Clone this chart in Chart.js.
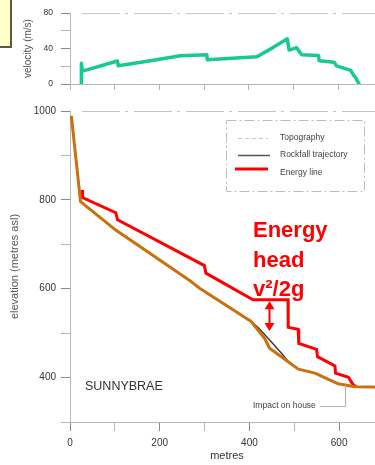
<!DOCTYPE html>
<html><head><meta charset="utf-8">
<script src="https://cdn.jsdelivr.net/npm/chart.js@4.4.1/dist/chart.umd.min.js"></script>
<style>
html,body{margin:0;padding:0;background:#fff;overflow:hidden;width:375px;height:465px;}
#wrap{position:relative;width:375px;height:465px;overflow:hidden;}
#topBox{position:absolute;left:0;top:0;width:383px;height:100px;}
#botBox{position:absolute;left:0;top:100px;width:390px;height:365px;}
#note{position:absolute;left:-2px;top:-2px;width:10px;height:46px;background:#ffffc8;border:2px solid #5a5a3c;}
</style></head>
<body><div id="wrap">
<div id="topBox"><canvas id="vel"></canvas></div>
<div id="botBox"><canvas id="elev"></canvas></div>
<div id="note"></div>
</div>
<script>
// ---- data (metres along profile) ----
const velDist = [25, 25.5, 28, 106, 108, 173, 247, 306, 307, 418, 452, 486, 490, 507, 518, 556, 557, 591, 596, 628, 632, 639, 644, 646.5];
const velMs   = [0.5, 23.5, 14.5, 26, 20.5, 25.7, 31.8, 33, 27.4, 30.8, 40.5, 51, 38.3, 41, 33.1, 32.1, 26.3, 24.6, 20.5, 15.4, 11.6, 6.9, 2.4, 0];

const topoDist = [3, 23.5, 102, 270, 289, 404, 434, 445, 471, 509, 546, 598, 635, 700];
const topoElev = [989, 796, 732, 616, 601, 526, 488, 466, 447, 419, 410, 386, 379.5, 378];

const trajDist = [3, 23.5, 102, 270, 289, 404, 420, 442, 472, 490, 509, 546, 598, 635, 700];
const trajElev = [989, 796, 732, 616, 601, 526, 512, 488, 454, 432, 419, 410, 386, 379.5, 378];

const energyDist = [27, 28, 102, 106, 247, 299.5, 303, 408, 486, 486.5, 508.6, 510, 549.6, 551.8, 590.6, 592, 620.6, 631.7, 638];
const energyElev = [822, 805, 771, 755, 680, 652, 635, 575, 575, 513, 508.7, 477, 463.6, 447, 426, 410, 400.6, 383, 379.5];

const velTicksLabelled = [0, 40, 80];
const elevTicksLabelled = [400, 600, 800, 1000];
const distTicksLabelled = [0, 200, 400, 600];
const legendLabels = ['Topography', 'Rockfall trajectory', 'Energy line'];
const headLabel = ['Energy', 'head', 'v\u00B2/2g'];
const placeLabel = 'SUNNYBRAE';
const impactLabel = 'Impact on house';
const arrowAt = {x: 443, top: 572, bottom: 505};
const impactAt = {x: 613, y: 384};

const pts = (xs, ys) => xs.map((x, i) => ({x: x, y: ys[i]}));

const FONT = '"Liberation Sans", Arial, Helvetica, sans-serif';
Chart.defaults.font.family = FONT;
Chart.defaults.color = '#333';

const AXIS = '#b8b8b8';
const tickColor = c => (c.tick && c.tick.label !== '' ? '#8a8a8a' : '#b5b5b5');

const topLine = {
  id: 'topLine',
  afterDraw(chart) {
    const {ctx, chartArea: a} = chart;
    ctx.save();
    ctx.strokeStyle = '#c4c4c4';
    ctx.lineWidth = 1;
    ctx.setLineDash([38, 5, 3, 6]);
    ctx.beginPath();
    ctx.moveTo(a.left + 12, a.top + 0.5);
    ctx.lineTo(a.right, a.top + 0.5);
    ctx.stroke();
    ctx.restore();
  }
};

new Chart(document.getElementById('vel'), {
  type: 'line',
  data: {datasets: [{
    data: pts(velDist, velMs),
    borderColor: '#17c993', borderWidth: 3.5, pointRadius: 0, tension: 0,
    borderJoinStyle: 'round', borderCapStyle: 'round'
  }]},
  options: {
    responsive: true, maintainAspectRatio: false, animation: false, devicePixelRatio: 1,
    layout: {padding: {top: 6, left: 0, right: 0, bottom: 0}},
    plugins: {legend: {display: false}, tooltip: {enabled: false}},
    scales: {
      x: {type: 'linear', min: 0, max: 700,
        ticks: {stepSize: 100, display: false},
        grid: {drawOnChartArea: false, drawTicks: true, tickLength: 6, color: '#b5b5b5'},
        border: {color: AXIS, dash: [34, 5, 3, 6]},
        afterFit: s => { s.height = 16; }
      },
      y: {min: 0, max: 80,
        ticks: {stepSize: 20, padding: 8, font: {size: 8.5}, color: '#333',
          callback: v => velTicksLabelled.includes(v) ? String(v) : ''},
        grid: {drawOnChartArea: false, drawTicks: true, tickLength: 9, color: tickColor},
        border: {color: AXIS, dash: [30, 5, 3, 5]},
        title: {display: true, text: 'velocity (m/s)', color: '#555', font: {size: 10}, padding: {top: 22, bottom: 0}},
        afterFit: s => { s.width = 70; }
      }
    }
  },
  plugins: [topLine]
});

const decor = {
  id: 'decor',
  afterDraw(chart) {
    const {ctx} = chart;
    const xs = chart.scales.x, ys = chart.scales.y;
    ctx.save();
    // legend box
    ctx.strokeStyle = '#bdbdbd'; ctx.lineWidth = 1; ctx.setLineDash([10, 3, 2, 3]);
    ctx.strokeRect(226.5, 20.5, 138, 71);
    // samples
    ctx.setLineDash([4, 3]); ctx.strokeStyle = '#c8c8c8'; ctx.lineWidth = 1;
    ctx.beginPath(); ctx.moveTo(238, 38.5); ctx.lineTo(268, 38.5); ctx.stroke();
    ctx.setLineDash([]); ctx.strokeStyle = '#555'; ctx.lineWidth = 1.5;
    ctx.beginPath(); ctx.moveTo(238, 55.5); ctx.lineTo(270, 55.5); ctx.stroke();
    ctx.strokeStyle = '#ff0000'; ctx.lineWidth = 3;
    ctx.beginPath(); ctx.moveTo(235, 69); ctx.lineTo(268, 69); ctx.stroke();
    ctx.fillStyle = '#444'; ctx.font = '8.5px ' + FONT; ctx.textBaseline = 'middle'; ctx.textAlign = 'left';
    [38, 55, 73].forEach((y, i) => ctx.fillText(legendLabels[i], 280, y));
    // energy head text
    ctx.fillStyle = '#ff0000'; ctx.font = 'bold 22px ' + FONT; ctx.textBaseline = 'alphabetic';
    [137, 167, 196].forEach((y, i) => ctx.fillText(headLabel[i], 253, y));
    // arrow
    const ax = Math.round(xs.getPixelForValue(arrowAt.x)) + 0.5;
    const at = ys.getPixelForValue(arrowAt.top), ab = ys.getPixelForValue(arrowAt.bottom);
    ctx.strokeStyle = '#ff0000'; ctx.lineWidth = 2;
    ctx.beginPath(); ctx.moveTo(ax, at + 6); ctx.lineTo(ax, ab - 6); ctx.stroke();
    ctx.beginPath(); ctx.moveTo(ax, at); ctx.lineTo(ax - 5, at + 8); ctx.lineTo(ax + 5, at + 8); ctx.closePath(); ctx.fill();
    ctx.beginPath(); ctx.moveTo(ax, ab); ctx.lineTo(ax - 5, ab - 8); ctx.lineTo(ax + 5, ab - 8); ctx.closePath(); ctx.fill();
    // place label
    ctx.fillStyle = '#333'; ctx.font = '12.5px ' + FONT; ctx.textBaseline = 'middle';
    ctx.fillText(placeLabel, 85, 287);
    // impact label and leader
    ctx.fillStyle = '#444'; ctx.font = '8.5px ' + FONT;
    ctx.fillText(impactLabel, 253, 306);
    const ix = Math.round(xs.getPixelForValue(impactAt.x)) + 0.5;
    const iy = ys.getPixelForValue(impactAt.y);
    ctx.strokeStyle = '#b0b0b0'; ctx.lineWidth = 1;
    ctx.beginPath(); ctx.moveTo(320, 306.5); ctx.lineTo(ix, 306.5); ctx.lineTo(ix, iy); ctx.stroke();
    ctx.restore();
  }
};

new Chart(document.getElementById('elev'), {
  type: 'line',
  data: {datasets: [
    {label: 'topography', data: pts(topoDist, topoElev), borderColor: '#c9700f', borderWidth: 3,
      pointRadius: 0, tension: 0, order: 1, borderJoinStyle: 'round'},
    {label: 'trajectory', data: pts(trajDist, trajElev), borderColor: '#3a3a3a', borderWidth: 1.5,
      pointRadius: 0, tension: 0, order: 2},
    {label: 'energy', data: pts(energyDist, energyElev), borderColor: '#ff0000', borderWidth: 3,
      pointRadius: 0, tension: 0, order: 3}
  ]},
  options: {
    responsive: true, maintainAspectRatio: false, animation: false, devicePixelRatio: 1,
    layout: {padding: {top: 11, left: 0, right: 0, bottom: 0}},
    plugins: {legend: {display: false}, tooltip: {enabled: false}},
    scales: {
      x: {type: 'linear', min: 0, max: 700,
        ticks: {stepSize: 100, padding: 6, font: {size: 10}, color: '#333', maxRotation: 0,
          callback: v => distTicksLabelled.includes(v) ? String(v) : ''},
        grid: {drawOnChartArea: false, drawTicks: true, tickLength: 9, color: tickColor},
        border: {color: AXIS, dash: [38, 5, 3, 6]},
        title: {display: true, text: 'metres', color: '#333', font: {size: 11}, padding: {top: 0, bottom: 2}},
        afterFit: s => { s.height = 43; }
      },
      y: {min: 300, max: 1000,
        ticks: {stepSize: 100, padding: 5, font: {size: 10}, color: '#333',
          callback: v => elevTicksLabelled.includes(v) ? String(v) : ''},
        grid: {drawOnChartArea: false, drawTicks: true, tickLength: 9, color: tickColor},
        border: {color: AXIS, dash: [30, 5, 3, 5]},
        title: {display: true, text: 'elevation (metres asl)', color: '#555', font: {size: 11}, padding: {top: 8, bottom: 0}},
        afterFit: s => { s.width = 70; }
      }
    }
  },
  plugins: [topLine, decor]
});
</script>
</body></html>
